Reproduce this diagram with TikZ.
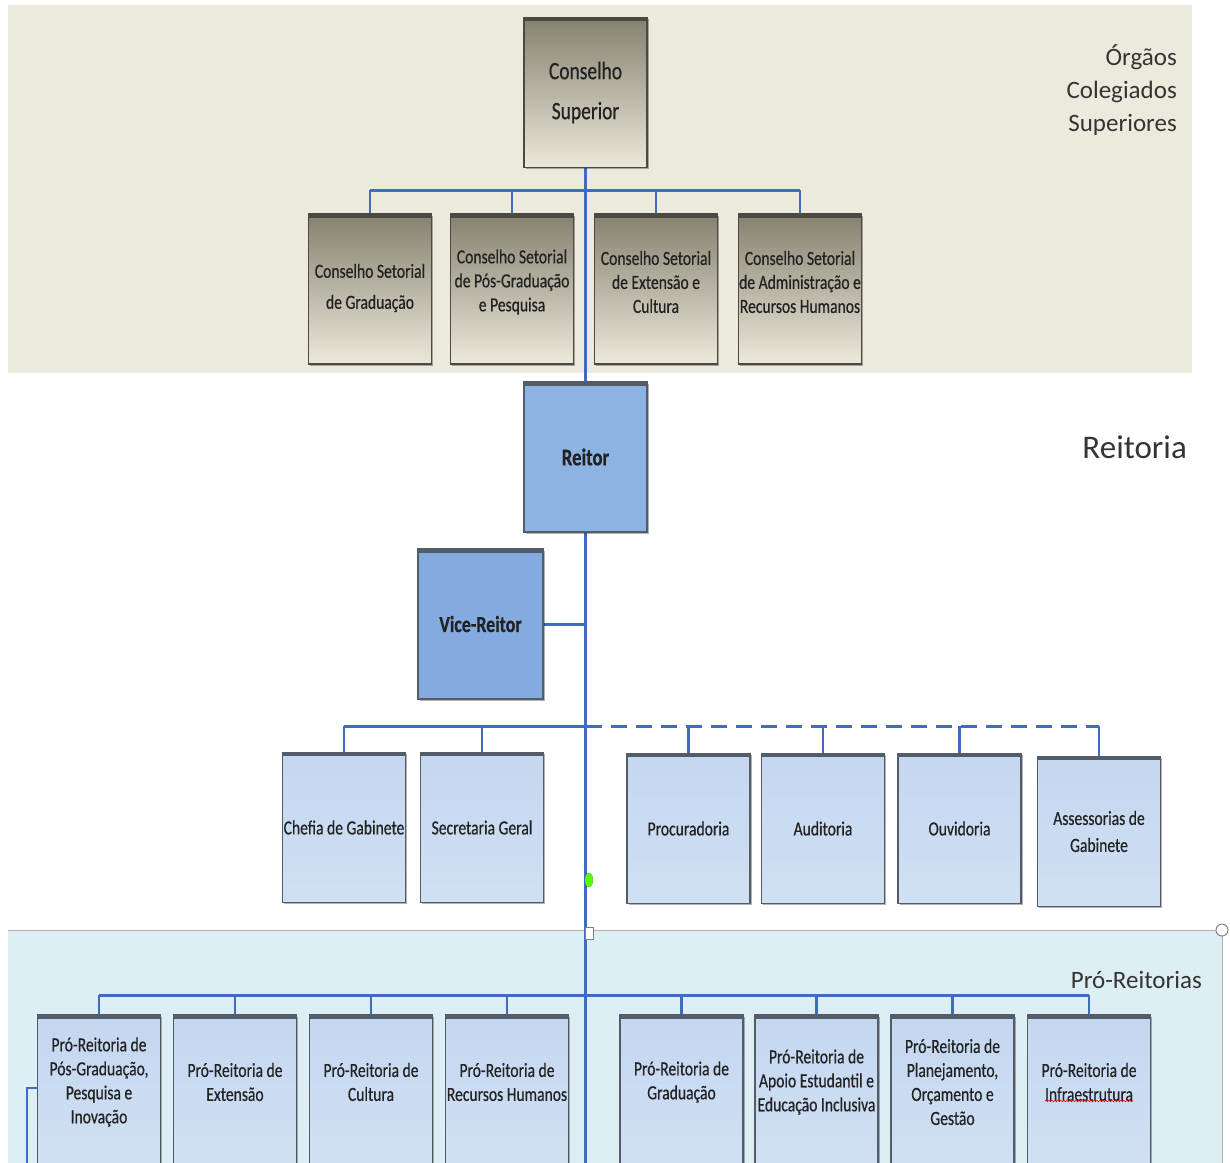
\documentclass[tikz,border=0pt]{standalone}
\usepackage{fontspec}
\setmainfont{Carlito}
\newfontfamily\bxf[FakeStretch=0.78,FakeBold=0.5]{Carlito}
\usetikzlibrary{shadows,decorations.pathmorphing,shapes.geometric}
\definecolor{lnblue}{RGB}{62,108,190}
\definecolor{beigeband}{RGB}{236,233,221}
\definecolor{lband}{RGB}{221,238,244}
\definecolor{cstop}{RGB}{133,129,112}
\definecolor{csbot}{RGB}{236,233,219}
\definecolor{cbord}{RGB}{74,74,66}
\definecolor{reit}{RGB}{141,179,226}
\definecolor{vice}{RGB}{132,171,223}
\definecolor{lboxa}{RGB}{196,215,240}
\definecolor{lboxb}{RGB}{208,224,244}
\definecolor{bbord}{RGB}{84,92,106}
\definecolor{txt}{RGB}{34,34,34}
\definecolor{lbltxt}{RGB}{52,52,52}
\pgfdeclarelayer{back}
\pgfdeclarelayer{mid}
\pgfdeclarelayer{front}
\pgfsetlayers{back,mid,main,front}
\begin{document}
\begin{tikzpicture}[x=1pt,y=-1pt,
  box/.style={minimum width=123pt, minimum height=150pt, inner sep=0pt, align=center,
    text=txt, line width=1.4pt,
    drop shadow={shadow xshift=1.5pt,shadow yshift=-1.5pt,opacity=0.3,fill=black}},
  topbar/.style={path picture={\fill[#1] (path picture bounding box.north west) rectangle ([yshift=-3.5pt]path picture bounding box.north east);}},
  cbox/.style={box, draw=cbord, top color=cstop, bottom color=csbot, topbar=cbord,
    font=\bxf\fontsize{20}{24}\selectfont},
  rbox/.style={box, draw=bbord, fill=reit, topbar=bbord,
    font=\bxf\bfseries\fontsize{24}{28}\selectfont},
  lbox/.style={box, draw=bbord, top color=lboxa, bottom color=lboxb, topbar=bbord,
    font=\bxf\fontsize{20}{24}\selectfont},
  intxt/.style={align=center, text=txt, inner sep=0pt, font=\bxf\fontsize{20}{24}\selectfont, yshift=#1},
  lbl/.style={anchor=east, align=right, inner sep=0pt, text=lbltxt, font=\fontsize{25}{33}\selectfont},
  conn/.style={draw=lnblue, line width=2.2pt},
  bus/.style={draw=lnblue, line width=3pt},
  dbus/.style={draw=lnblue, line width=3pt, dash pattern=on 16pt off 9pt}
]
\useasboundingbox (0,0) rectangle (1230,1162);
\clip (0,0) rectangle (1230,1162);

% bands
\begin{pgfonlayer}{back}
  \fill[white] (0,0) rectangle (1230,1162);
  \fill[beigeband] (8,5) rectangle (1192,373);
  \fill[lband] (8,930) rectangle (1222,1170);
  \draw[gray!60, line width=1pt] (8,930) -- (1222,930) -- (1222,1170);
\end{pgfonlayer}

% band titles
\node[lbl] (Lorg) at (1177,90) {Órgãos\\Colegiados\\Superiores};
\node[lbl, font=\fontsize{33}{40}\selectfont] (Lrei) at (1187,447) {Reitoria};
\node[lbl] (Lpro) at (1202,980) {Pró-Reitorias};

% top council
\node[cbox, font=\bxf\fontsize{25}{40}\selectfont] (CS) at (585.5,92.5) {Conselho\\Superior};
\node[cbox, label={[intxt=1pt]center:{Conselho Setorial\\[7pt]de Graduação}}] (S1) at (370,289) {};
\node[cbox, label={[intxt=7pt]center:{Conselho Setorial\\de Pós-Graduação\\e Pesquisa}}] (S2) at (512,289) {};
\node[cbox, label={[intxt=7pt]center:{Conselho Setorial\\de Extensão e\\Cultura}}] (S3) at (656,289) {};
\node[cbox, label={[intxt=7pt]center:{Conselho Setorial\\de Administração e\\Recursos Humanos}}] (S4) at (800,289) {};

% reitoria
\node[rbox] (R) at (585.5,457) {Reitor};
\node[rbox, fill=vice, minimum width=125pt, font=\bxf\bfseries\fontsize{23}{27}\selectfont] (VR) at (480.5,624) {Vice-Reitor};

% gabinete row
\node[lbox] (C1) at (344,827.5) {Chefia de Gabinete};
\node[lbox] (C2) at (482,827.5) {Secretaria Geral};
\node[lbox] (C3) at (688.5,828.5) {Procuradoria};
\node[lbox] (C4) at (823,828.5) {Auditoria};
\node[lbox] (C5) at (959.5,828.5) {Ouvidoria};
\node[lbox] (C6) at (1099,831.5) {Assessorias de\\[3pt]Gabinete};

% pro-reitorias
\node[lbox, label={[intxt=8pt]center:{Pró-Reitoria de\\Pós-Graduação,\\Pesquisa e\\Inovação}}] (P1) at (99,1090) {};
\node[lbox, label={[intxt=8pt]center:{Pró-Reitoria de\\Extensão}}] (P2) at (235,1090) {};
\node[lbox, label={[intxt=8pt]center:{Pró-Reitoria de\\Cultura}}] (P3) at (371,1090) {};
\node[lbox, label={[intxt=8pt]center:{Pró-Reitoria de\\Recursos Humanos}}] (P4) at (507,1090) {};
\node[lbox, label={[intxt=8pt]center:{Pró-Reitoria de\\Graduação}}] (P5) at (681.5,1090) {};
\node[lbox, label={[intxt=8pt]center:{Pró-Reitoria de\\Apoio Estudantil e\\Educação Inclusiva}}] (P6) at (816.5,1090) {};
\node[lbox, label={[intxt=8pt]center:{Pró-Reitoria de\\Planejamento,\\Orçamento e\\Gestão}}] (P7) at (952.5,1090) {};
\node[lbox, label={[intxt=8pt]center:{Pró-Reitoria de\\Infraestrutura}}] (P8) at (1089,1090) {};

% coordinates
\coordinate (bus1) at (585.5,190);
\coordinate (bus2) at (585.5,726);
\coordinate (bus3) at (585.5,995);
\coordinate (mbot) at (585.5,1170);
\coordinate (lcor) at (27,1088);
\coordinate (lbot) at (27,1170);

\begin{pgfonlayer}{mid}
  \draw[conn, line width=2.6pt] (CS.south) -- (mbot);
  % council bus
  \draw[bus] (S1.north |- bus1) -- (S4.north |- bus1);
  \foreach \n in {S1,S2,S3,S4} \draw[conn] (\n.north) -- (\n.north |- bus1);
  % vice
  \draw[bus] (VR.east) -- (VR.east -| bus1);
  % gabinete bus
  \draw[bus] (C1.north |- bus2) -- (bus2);
  \draw[dbus] (bus2) -- (C6.north |- bus2);
  \foreach \n in {C1,C2,C3,C4,C5,C6} \draw[conn] (\n.north) -- (\n.north |- bus2);
  % pro-reitorias bus
  \draw[bus] (P1.north |- bus3) -- (P8.north |- bus3);
  \foreach \n in {P1,P2,P3,P4,P5,P6,P7,P8} \draw[conn] (\n.north) -- (\n.north |- bus3);
  % left line
  \draw[conn] (P1.west |- lcor) -- (lcor) -- (lbot);
\end{pgfonlayer}

\begin{pgfonlayer}{front}
  \node[ellipse, fill=green!65!yellow, draw=green!50!black!60, line width=0.4pt, minimum width=8pt, minimum height=14pt, inner sep=0pt] (gdot) at (589,880) {};
  \node[rectangle, fill=white, draw=gray, line width=0.6pt, minimum width=8pt, minimum height=12pt, inner sep=0pt] (wsq) at (589,933) {};
  \node[circle, fill=white, draw=gray, line width=1pt, minimum size=12pt, inner sep=0pt] (rcirc) at (1222,930) {};
  \draw[red, line width=0.6pt, decorate, decoration={snake, amplitude=0.8pt, segment length=3pt}] (1045,1101) -- (1133,1101);
\end{pgfonlayer}
\end{tikzpicture}
\end{document}
